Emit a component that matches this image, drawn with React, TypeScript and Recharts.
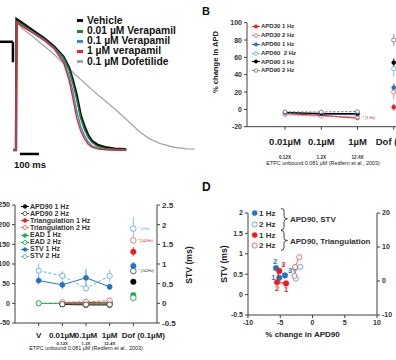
import React from 'react';
import {
  ComposedChart, LineChart, Line, Scatter, XAxis, YAxis, ErrorBar,
  Legend, ReferenceLine, ReferenceDot,
} from 'recharts';

const FONT = '"Liberation Sans", Arial, Helvetica, sans-serif';
const AXIS = '#404040';

// ---------- A: action potential traces (ms, mV) ----------
const apTime = [-15, 0, 3, 30, 90, 150, 200, 250, 280, 300, 320, 340, 360, 380, 400, 430, 470, 520, 580, 650, 700, 760, 830, 900, 940];
const vehicleMv = [-85, -85, 30, 27, 20, 13, 6, -3, -13, -24, -37, -54, -64, -72, -77, -80.5, -82.5, -83.8, -84.3];
const vera001Mv = [-85, -85, 28, 25, 18.5, 12, 5, -4, -15, -27, -41, -57, -67, -74, -78.5, -82, -83.7, -84.3, -84.6];
const vera01Mv = [-85, -85, 27, 24, 18, 11.5, 4.5, -6, -20, -34, -51, -64, -72, -78, -81.5, -83.5, -84.5, -85, -85];
const vera1Mv = [-85, -85, 27, 24, 17.5, 11, 4, -8, -24, -40, -57, -68, -75, -80, -82.5, -84, -84.8, -85, -85.2];
const dofMv = [-85, -85, 29, 22, 14.5, 6, -1, -9, -13.5, -17, -20, -23, -26, -29, -32, -36.5, -42, -49, -58, -69, -75, -79.5, -82.6, -84, -84.3];

const apSeries = [
  { key: 'dof', name: '0.1 µM Dofetilide', values: dofMv, color: '#a6a6a6', width: 1.3 },
  { key: 'vehicle', name: 'Vehicle', values: vehicleMv, color: '#111111', width: 2.4 },
  { key: 'v001', name: '0.01 µM Verapamil', values: vera001Mv, color: '#1d8a2c', width: 1.5 },
  { key: 'v01', name: '0.1 µM Verapamil', values: vera01Mv, color: '#2b8fe0', width: 1.4 },
  { key: 'v1', name: '1 µM verapamil', values: vera1Mv, color: '#f0202a', width: 1.4 },
];
const apLegendOrder = ['vehicle', 'v001', 'v01', 'v1', 'dof'];

const apRows = apTime.map((t, i) => {
  const row: any = { t };
  apSeries.forEach((s) => { row[s.key] = s.values[i] ?? null; });
  return row;
});

// ---------- B: % change in APD ----------
const doseLabels = ['0.01µM', '0.1µM', '1µM', 'Dof (0.1µM)'];
const doseFold = ['0.12X', '1.2X', '12.4X', ''];
const apd30at1Hz = [-5, -7, -10, 2.5];
const apd30at2Hz = [-6, -8, -9, 20];
const apd60at1Hz = [-4, -5.5, -6, 25];
const apd60at2Hz = [-4.5, -4.5, -5, 47];
const apd90at1Hz = [-3.5, -5, -5, 54];
const apd90at2Hz = [-3, -3, -2.5, 80];
const apd30at1HzSem = [1.5, 2, 2.5, 4];
const apd30at2HzSem = [1.5, 2, 2, 9];
const apd60at1HzSem = [1.5, 1.5, 2, 5];
const apd60at2HzSem = [1.5, 1.5, 2, 9];
const apd90at1HzSem = [1.5, 1.5, 2, 5];
const apd90at2HzSem = [1.5, 1.5, 2, 7];

const bSeries = [
  { key: 'a30h1', name: 'APD30 1 Hz', values: apd30at1Hz, sem: apd30at1HzSem, color: '#ee1c1c', open: false },
  { key: 'a30h2', name: 'APD30 2 Hz', values: apd30at2Hz, sem: apd30at2HzSem, color: '#f27070', open: true },
  { key: 'a60h1', name: 'APD60 1 Hz', values: apd60at1Hz, sem: apd60at1HzSem, color: '#1e74cc', open: false },
  { key: 'a60h2', name: 'APD60  2 Hz', values: apd60at2Hz, sem: apd60at2HzSem, color: '#63b0ea', open: true },
  { key: 'a90h1', name: 'APD90 1 Hz', values: apd90at1Hz, sem: apd90at1HzSem, color: '#000000', open: false },
  { key: 'a90h2', name: 'APD90 2 Hz', values: apd90at2Hz, sem: apd90at2HzSem, color: '#7a7a7a', open: true },
];

const bRows = doseLabels.map((label, i) => {
  const isDof = i === doseLabels.length - 1;
  const row: any = { pos: i + 1, label };
  bSeries.forEach((s) => {
    row[s.key] = isDof ? null : s.values[i];
    row[s.key + 'Err'] = isDof ? null : s.sem[i];
    row[s.key + 'Dof'] = isDof ? s.values[i] : null;
    row[s.key + 'DofErr'] = isDof ? s.sem[i] : null;
  });
  return row;
});

// ---------- C: APD90, triangulation, EAD, STV ----------
const cLabels = ['V', '0.01µM', '0.1µM', '1µM', 'Dof (0.1µM)'];
const cFold = ['', '0.12X', '1.2X', '12.4X', ''];
const apd90C1Hz = [null, -3, -4, -4, 55];
const apd90C2Hz = [null, -2, -3, -3, 82];
const triC1Hz = [null, 1, 2, 3, 131];
const triC2Hz = [null, 3, 4, 7, 160];
const eadC1Hz = [0, 0, 0, 0, 21];
const eadC2Hz = [0, 0, 0, 0, 14];
const stvC1Hz = [0.58, 0.47, 0.65, 0.42, 0.95];
const stvC2Hz = [0.83, 0.7, 0.38, 0.7, 1.9];
const apd90C1HzSem = [null, 1, 1, 1, 3];
const apd90C2HzSem = [null, 1, 1, 1, 4];
const triC1HzSem = [null, 1, 1, 2, 12];
const triC2HzSem = [null, 1, 2, 3, 8];
const eadC1HzSem = [0, 0, 0, 0, 3];
const eadC2HzSem = [0, 0, 0, 0, 3];
const stvC1HzSem = [0.1, 0.1, 0.22, 0.08, 0.1];
const stvC2HzSem = [0.18, 0.12, 0.08, 0.15, 0.3];

const cSeries = [
  { key: 'ead1', name: 'EAD 1 Hz', values: eadC1Hz, sem: eadC1HzSem, color: '#16b04a', open: false, axis: 'l' },
  { key: 'ead2', name: 'EAD 2 Hz', values: eadC2Hz, sem: eadC2HzSem, color: '#16b04a', open: true, axis: 'l' },
  { key: 'tri1', name: 'Triangulation 1 Hz', values: triC1Hz, sem: triC1HzSem, color: '#ee1c1c', open: false, axis: 'l' },
  { key: 'tri2', name: 'Triangulation 2 Hz', values: triC2Hz, sem: triC2HzSem, color: '#f26a6a', open: true, axis: 'l' },
  { key: 'a901', name: 'APD90 1 Hz', values: apd90C1Hz, sem: apd90C1HzSem, color: '#000000', open: false, axis: 'l' },
  { key: 'a902', name: 'APD90 2 Hz', values: apd90C2Hz, sem: apd90C2HzSem, color: '#555555', open: true, axis: 'l' },
  { key: 'stv1', name: 'STV 1 Hz', values: stvC1Hz, sem: stvC1HzSem, color: '#1e74cc', open: false, axis: 'r' },
  { key: 'stv2', name: 'STV 2 Hz', values: stvC2Hz, sem: stvC2HzSem, color: '#5eaee8', open: true, axis: 'r' },
];
const cLegendOrder = ['a901', 'a902', 'tri1', 'tri2', 'ead1', 'ead2', 'stv1', 'stv2'];

const cRows = cLabels.map((label, i) => {
  const isDof = i === cLabels.length - 1;
  const row: any = { pos: i + 1, label };
  cSeries.forEach((s) => {
    row[s.key] = isDof ? null : s.values[i];
    row[s.key + 'Err'] = isDof ? null : s.sem[i] || null;
    row[s.key + 'Dof'] = isDof ? s.values[i] : null;
    row[s.key + 'DofErr'] = isDof ? s.sem[i] : null;
  });
  return row;
});

// ---------- D: STV / triangulation vs APD90 ----------
const doseOrder = ['1', '2', '3'];
const stvApd1Hz = [-5.15, -5.66, -4.26];
const stv1Hz = [0.41, 0.65, 0.47];
const stvApd2Hz = [-2.6, -2.7, -1.9];
const stv2Hz = [0.39, 0.65, 0.68];
const triApd1Hz = [-4.1, -5.5, -5.15];
const tri1Hz = [-0.7, -0.4, 2.97];
const triApd2Hz = [-2.8, -2.7, -2.05];
const tri2Hz = [1.5, 4.1, 7.0];

const dSeries = [
  { key: 'stv1', xs: stvApd1Hz, ys: stv1Hz, axis: 'l', color: '#1e74cc', open: false, numbers: true, labelAt: ['left', 'top', 'right'] },
  { key: 'stv2', xs: stvApd2Hz, ys: stv2Hz, axis: 'l', color: '#5eaee8', open: true, numbers: false, labelAt: [] as string[] },
  { key: 'tri1', xs: triApd1Hz, ys: tri1Hz, axis: 'r', color: '#ee1c1c', open: false, numbers: true, labelAt: ['bottom', 'bottom', 'topright'] },
  { key: 'tri2', xs: triApd2Hz, ys: tri2Hz, axis: 'r', color: '#f26a6a', open: true, numbers: false, labelAt: [] as string[] },
];

// ---------- helpers ----------
function makeDot(color: string, open: boolean, r: number) {
  return (props: any) => {
    const { cx, cy, index, value } = props;
    if (cx == null || cy == null || value == null || Number.isNaN(cy)) return <g key={`e${index}`} />;
    return (
      <circle key={`d${index}`} cx={cx} cy={cy} r={r}
        fill={open ? '#ffffff' : color} stroke={color} strokeWidth={open ? 0.9 : 0.4} />
    );
  };
}

function Mark({ color, open, line, dashed, w = 10, r = 2 }: any) {
  return (
    <svg width={w} height={7} style={{ verticalAlign: 'middle', marginRight: 1 }}>
      {line && <line x1={0} x2={w} y1={3.5} y2={3.5} stroke={color} strokeWidth={1} strokeDasharray={dashed ? '2 1' : undefined} />}
      <circle cx={w / 2} cy={3.5} r={r} fill={open ? '#fff' : color} stroke={color} strokeWidth={open ? 0.9 : 0.4} />
    </svg>
  );
}

const tickStyle = { fontSize: 7, fontWeight: 700, fill: '#333', fontFamily: FONT };

// ---------- panels ----------
function ApLegend() {
  return (
    <div style={{ fontFamily: FONT, fontSize: 10.3, fontWeight: 700, lineHeight: '10.3px', color: '#111' }}>
      {apLegendOrder.map((k) => {
        const s = apSeries.find((x) => x.key === k)!;
        return (
          <div key={k} style={{ whiteSpace: 'nowrap', height: 10.3 }}>
            <span style={{ display: 'inline-block', width: 6, height: 3, background: s.color, marginRight: 4, verticalAlign: 'middle' }} />
            {s.name}
          </div>
        );
      })}
    </div>
  );
}

function PanelA() {
  return (
    <LineChart width={200} height={160} data={apRows} margin={{ top: 0, right: 0, bottom: 0, left: 0 }}>
      <XAxis dataKey="t" type="number" domain={[-84, 968]} hide />
      <YAxis type="number" domain={[-93.8, 46.7]} hide />
      {apSeries.map((s) => (
        <Line key={s.key} dataKey={s.key} stroke={s.color} strokeWidth={s.width} dot={false} activeDot={false}
          type="linear" isAnimationActive={false} connectNulls={false} />
      ))}
      <ReferenceLine segment={[{ x: 21, y: -88.5 }, { x: 121, y: -88.5 }]} stroke="#000" strokeWidth={2.5} />
      <ReferenceLine segment={[{ x: -84, y: 10 }, { x: -16, y: 10 }]} stroke="#000" strokeWidth={2.5} />
      <ReferenceLine segment={[{ x: -16, y: 10 }, { x: -16, y: -8 }]} stroke="#000" strokeWidth={2.5} />
      <Legend layout="horizontal" verticalAlign="middle" align="center" content={<ApLegend />}
        wrapperStyle={{ left: 77, top: 15.5, width: 120, height: 55 }} />
    </LineChart>
  );
}

function DoseTickB(props: any) {
  const { x, y, payload } = props;
  const i = payload.value - 1;
  const isDof = i === doseLabels.length - 1;
  return (
    <g fontFamily={FONT}>
      <text x={isDof ? x - 18 : x} y={y + 13} textAnchor={isDof ? 'start' : 'middle'} fontSize={9.5} fontWeight={700} fill="#222">{doseLabels[i]}</text>
      {doseFold[i] && <text x={x} y={y + 27} textAnchor="middle" fontSize={4.6} fontWeight={700} fill="#333">{doseFold[i]}</text>}
    </g>
  );
}

function BLegend() {
  return (
    <div style={{ fontFamily: FONT, fontSize: 6, fontWeight: 700, lineHeight: '8.9px', color: '#333' }}>
      {bSeries.map((s) => (
        <div key={s.key} style={{ whiteSpace: 'pre', height: 8.9 }}>
          <Mark color={s.color} open={s.open} line dashed={s.open} w={8} r={1.8} />{s.name}
        </div>
      ))}
    </div>
  );
}

function PanelB() {
  return (
    <ComposedChart width={240} height={170} data={bRows} margin={{ top: 22.7, right: 10, bottom: 0, left: 0 }}>
      <XAxis dataKey="pos" type="number" domain={[-0.05, 5]} ticks={[1, 2, 3, 4]} height={43.3}
        tick={<DoseTickB />} tickSize={3} stroke={AXIS} axisLine={{ stroke: AXIS }} tickLine={{ stroke: AXIS }} />
      <YAxis type="number" domain={[-20, 100]} ticks={[-20, 0, 20, 40, 60, 80, 100]} width={47}
        tick={tickStyle} tickSize={3} axisLine={{ stroke: AXIS }} tickLine={{ stroke: AXIS }} />
      {bSeries.map((s) => (
        <Line key={s.key} dataKey={s.key} stroke={s.color} strokeWidth={s.open ? 1 : 1.2}
          strokeDasharray={s.open ? '2.5 1.5' : undefined} dot={makeDot(s.color, s.open, 1.9)} activeDot={false}
          isAnimationActive={false} connectNulls={false} legendType="none">
          <ErrorBar dataKey={s.key + 'Err'} width={0} stroke={s.color} strokeWidth={0.8} direction="y" />
        </Line>
      ))}
      {bSeries.map((s) => (
        <Line key={s.key + 'Dof'} dataKey={s.key + 'Dof'} stroke="none" strokeWidth={0} activeDot={false}
          dot={makeDot(s.color, s.open, 2.1)} isAnimationActive={false} legendType="none">
          <ErrorBar dataKey={s.key + 'DofErr'} width={0} stroke={s.color} strokeWidth={0.8} direction="y" />
        </Line>
      ))}
      <ReferenceDot x={3} y={-10} r={0} stroke="none"
        label={{ value: '* (1 Hz)', position: 'right', offset: 5, fontSize: 3.8, fill: '#ee1c1c', fontFamily: FONT }} />
      <Legend layout="horizontal" verticalAlign="middle" align="center" content={<BLegend />}
        wrapperStyle={{ left: 52, top: 22, width: 80, height: 55 }} />
    </ComposedChart>
  );
}

function DoseTickC(props: any) {
  const { x, y, payload } = props;
  const i = payload.value - 1;
  const isDof = i === cLabels.length - 1;
  return (
    <g fontFamily={FONT}>
      <text x={x + (isDof ? 10 : 0)} y={y + 10} textAnchor="middle" fontSize={8} fontWeight={700} fill="#222">{cLabels[i]}</text>
      {cFold[i] && <text x={x} y={y + 17} textAnchor="middle" fontSize={4.4} fontWeight={700} fill="#333">{cFold[i]}</text>}
    </g>
  );
}

function CLegend() {
  return (
    <div style={{ fontFamily: FONT, fontSize: 7, fontWeight: 700, lineHeight: '7.1px', color: '#333' }}>
      {cLegendOrder.map((k) => {
        const s = cSeries.find((x) => x.key === k)!;
        return (
          <div key={k} style={{ whiteSpace: 'pre', height: 7.1 }}>
            <Mark color={s.color} open={s.open} line w={8} r={2} />{s.name}
          </div>
        );
      })}
    </div>
  );
}

function PanelC() {
  return (
    <ComposedChart width={217} height={180} data={cRows} margin={{ top: 25, right: 17, bottom: 0, left: 0 }}>
      <XAxis dataKey="pos" type="number" domain={[0, 6]} ticks={[1, 2, 3, 4, 5]} height={37}
        tick={<DoseTickC />} tickSize={3} axisLine={{ stroke: AXIS }} tickLine={{ stroke: AXIS }} />
      <YAxis yAxisId="l" type="number" domain={[-50, 250]} ticks={[-50, 0, 50, 100, 150, 200, 250]} width={30}
        tick={tickStyle} tickSize={3} axisLine={{ stroke: AXIS }} tickLine={{ stroke: AXIS }} />
      <YAxis yAxisId="r" orientation="right" type="number" domain={[-0.5, 2.5]} ticks={[-0.5, 0, 0.5, 1, 1.5, 2, 2.5]}
        width={28} tick={{ ...tickStyle, fontSize: 8 }} tickSize={3} axisLine={{ stroke: AXIS }} tickLine={{ stroke: AXIS }} />
      {cSeries.map((s) => (
        <Line key={s.key} yAxisId={s.axis} dataKey={s.key} stroke={s.color} strokeWidth={1}
          strokeDasharray={s.open ? '3 2' : undefined} dot={makeDot(s.color, s.open, 2.6)} activeDot={false}
          isAnimationActive={false} connectNulls={false} legendType="none">
          <ErrorBar dataKey={s.key + 'Err'} width={0} stroke={s.color} strokeWidth={0.8} direction="y" />
        </Line>
      ))}
      {cSeries.map((s) => (
        <Line key={s.key + 'Dof'} yAxisId={s.axis} dataKey={s.key + 'Dof'} stroke="none" strokeWidth={0} activeDot={false}
          dot={makeDot(s.color, s.open, 2.8)} isAnimationActive={false} legendType="none">
          <ErrorBar dataKey={s.key + 'DofErr'} width={0} stroke={s.color} strokeWidth={0.8} direction="y" />
        </Line>
      ))}
      <ReferenceDot yAxisId="r" x={5} y={1.9} r={0} stroke="none"
        label={{ value: '* (2Hz)', position: 'right', offset: 5, fontSize: 3.6, fill: '#5eaee8', fontFamily: FONT }} />
      <ReferenceDot yAxisId="l" x={5} y={160} r={0} stroke="none"
        label={{ value: '*(1&2Hz)', position: 'right', offset: 5, fontSize: 3.6, fill: '#ee1c1c', fontFamily: FONT }} />
      <ReferenceDot yAxisId="l" x={5} y={82} r={0} stroke="none"
        label={{ value: '* (1&2Hz)', position: 'right', offset: 5, fontSize: 3.6, fill: '#333', fontFamily: FONT }} />
      <Legend layout="horizontal" verticalAlign="middle" align="center" content={<CLegend />}
        wrapperStyle={{ left: 36, top: 22.5, width: 90, height: 60 }} />
    </ComposedChart>
  );
}

function dShape(color: string, open: boolean, numbers: boolean, labelAt: string[]) {
  return (props: any) => {
    const { cx, cy, index } = props;
    const pos = labelAt[index];
    let tx = cx, ty = cy;
    if (pos === 'left') { tx = cx - 6; ty = cy + 2.5; }
    if (pos === 'right') { tx = cx + 5; ty = cy - 2; }
    if (pos === 'top') { tx = cx - 1; ty = cy - 4.5; }
    if (pos === 'topright') { tx = cx + 4; ty = cy - 3.5; }
    if (pos === 'bottom') { tx = cx; ty = cy + 9; }
    return (
      <g>
        <circle cx={cx} cy={cy} r={open ? 2.6 : 2.8} fill={open ? '#fff' : color} stroke={color} strokeWidth={open ? 1 : 0.4} />
        {numbers && (
          <text x={tx} y={ty} textAnchor="middle" fontSize={7.5} fontWeight={700} fill={color} fontFamily={FONT}>
            {doseOrder[index]}
          </text>
        )}
      </g>
    );
  };
}

function DLegend() {
  const rows = [
    { y: 7, color: '#1e74cc', open: false },
    { y: 18.5, color: '#5eaee8', open: true },
    { y: 29, color: '#ee1c1c', open: false },
    { y: 39.5, color: '#f26a6a', open: true },
  ];
  return (
    <svg width={146} height={46} style={{ fontFamily: FONT }}>
      {rows.map((r, i) => (
        <g key={i}>
          <circle cx={4.7} cy={r.y} r={2.6} fill={r.open ? '#fff' : r.color} stroke={r.color} strokeWidth={r.open ? 1 : 0.4} />
          <text x={9} y={r.y + 2.8} fontSize={8} fontWeight={700} fill="#333">{i % 2 === 0 ? '1 Hz' : '2 Hz'}</text>
        </g>
      ))}
      <path d="M31,2.5 Q34,2.5 34,5 L34,10 Q34,12.8 37.5,12.8 Q34,12.8 34,15.5 L34,21.5 Q34,24 31,24" fill="none" stroke="#333" strokeWidth={0.9} />
      <path d="M31,24.5 Q34,24.5 34,27 L34,32 Q34,34.5 37.5,34.5 Q34,34.5 34,37 L34,42 Q34,44.5 31,44.5" fill="none" stroke="#333" strokeWidth={0.9} />
      <text x={40} y={16} fontSize={8} fontWeight={700} fill="#333">APD90, STV</text>
      <text x={40} y={37.5} fontSize={8} fontWeight={700} fill="#333">APD90, Triangulation</text>
    </svg>
  );
}

function PanelD() {
  return (
    <ComposedChart width={196} height={180} margin={{ top: 33, right: 0, bottom: 0, left: 0 }}>
      <XAxis dataKey="x" type="number" domain={[-10, 10]} ticks={[-10, -5, 0, 5, 10]} height={45}
        tick={tickStyle} tickSize={3} axisLine={{ stroke: AXIS }} tickLine={{ stroke: AXIS }} />
      <YAxis yAxisId="l" type="number" domain={[-0.5, 2]} ticks={[-0.5, 0, 0.5, 1, 1.5, 2]} width={48}
        tick={tickStyle} tickSize={3} axisLine={{ stroke: AXIS }} tickLine={{ stroke: AXIS }} />
      <YAxis yAxisId="r" orientation="right" type="number" domain={[-10, 20]} ticks={[-10, 0, 10, 20]} width={19}
        tick={tickStyle} tickSize={3} axisLine={{ stroke: AXIS }} tickLine={{ stroke: AXIS }} />
      {dSeries.map((s) => (
        <Scatter key={s.key} yAxisId={s.axis} dataKey="y"
          data={s.xs.map((x, i) => ({ x, y: s.ys[i] }))}
          line={{ stroke: s.color, strokeWidth: 1 }} lineType="joint"
          shape={dShape(s.color, s.open, s.numbers, s.labelAt)}
          isAnimationActive={false} legendType="none" />
      ))}
      <Legend layout="horizontal" verticalAlign="middle" align="center" content={<DLegend />}
        wrapperStyle={{ left: 50, top: 26, width: 146, height: 46 }} />
    </ComposedChart>
  );
}

const txt = (extra: any) => ({ position: 'absolute' as const, fontFamily: FONT, fontWeight: 700, color: '#222', whiteSpace: 'nowrap' as const, lineHeight: 1, ...extra });
const centered = 'translate(-50%, -50%)';
const vertical = 'translate(-50%, -50%) rotate(-90deg)';

export default function App() {
  return (
    <div style={{ position: 'absolute', left: 0, top: 0, width: 396, height: 360, overflow: 'hidden', background: '#fff' }}>
      <div style={{ position: 'absolute', left: 0, top: 0 }}><PanelA /></div>
      <div style={{ position: 'absolute', left: 200, top: 0 }}><PanelB /></div>
      <div style={{ position: 'absolute', left: -15, top: 180 }}><PanelC /></div>
      <div style={{ position: 'absolute', left: 200, top: 180 }}><PanelD /></div>

      <div style={txt({ left: 30, top: 165, fontSize: 9.5, transform: centered, color: '#111' })}>100 ms</div>
      <div style={txt({ left: 202, top: 6, fontSize: 11, color: '#111' })}>B</div>
      <div style={txt({ left: 202, top: 181, fontSize: 12, color: '#111' })}>D</div>
      <div style={txt({ left: 215.8, top: 62, fontSize: 7.6, transform: vertical })}>% change in APD</div>
      <div style={txt({ left: 323, top: 163.5, fontSize: 5.4, fontWeight: 400, transform: centered })}>ETPC unbound 0.081 µM (Redfern et al., 2003)</div>
      <div style={txt({ left: 189, top: 265, fontSize: 8.6, transform: vertical })}>STV (ms)</div>
      <div style={txt({ left: 86, top: 348.5, fontSize: 5.4, fontWeight: 400, transform: centered })}>ETPC unbound 0.081 µM (Redfern et al., 2003)</div>
      <div style={txt({ left: 224, top: 264, fontSize: 8.6, transform: vertical })}>STV (ms)</div>
      <div style={txt({ left: 302.5, top: 335, fontSize: 8, transform: centered })}>% change in APD90</div>
    </div>
  );
}
